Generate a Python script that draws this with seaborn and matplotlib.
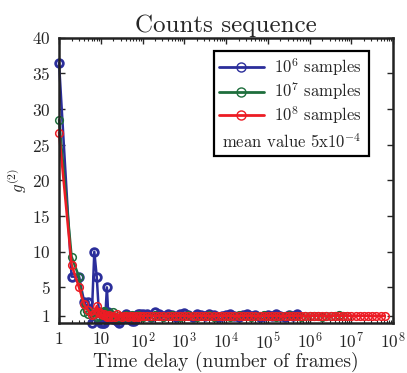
import matplotlib
matplotlib.use("Agg")
import matplotlib.pyplot as plt
import numpy as np
import pandas as pd
import seaborn as sns
from matplotlib.lines import Line2D
from matplotlib.patches import Rectangle
from matplotlib.ticker import FixedLocator, FixedFormatter, LogLocator, NullFormatter

# time delays (frames): individual lags first, then a log-spaced tail
lags_early = [1, 2, 3, 4, 5, 6, 7, 8, 9, 10, 11, 12, 13, 14, 15, 16,
              18, 20, 22, 25, 28, 32, 36, 40, 45, 50, 56, 63, 71, 79, 89, 100]
lags_tail = [126, 158, 200, 251, 316, 398, 501, 631, 794,
             1.0e3, 1.259e3, 1.585e3, 1.995e3, 2.512e3, 3.162e3, 3.981e3, 5.012e3, 6.31e3, 7.943e3,
             1.0e4, 1.259e4, 1.585e4, 1.995e4, 2.512e4, 3.162e4, 3.981e4, 5.012e4, 6.31e4, 7.943e4,
             1.0e5, 1.259e5, 1.585e5, 1.995e5, 2.512e5, 3.162e5, 3.981e5, 5.012e5, 6.31e5, 7.943e5,
             1.0e6, 1.259e6, 1.585e6, 1.995e6, 2.512e6, 3.162e6, 3.981e6, 5.012e6, 6.31e6, 7.943e6,
             1.0e7, 1.259e7, 1.585e7, 1.995e7, 2.512e7, 3.162e7, 3.981e7, 5.012e7, 6.31e7]

g2_1e6_early = [36.5, 6.5, 6.5, 3.0, 3.0, 0.0, 10.0, 6.5, 1.5, 0.0, 0.0, 0.0, 1.5, 5.0, 1.5, 1.0,
                0.8, 0.5, 0.6, 0.3, 0.0, 0.5, 0.8, 1.3, 0.8, 0.6, 0.3, 0.3, 0.8, 1.3, 1.3, 1.3]
g2_1e6_tail = [1.3, 0.9, 1.5, 1.2, 1.0, 1.3, 1.1, 0.8, 1.2,
               1.4, 1.1, 0.9, 1.2, 1.1, 1.0, 1.2, 1.1, 0.9, 1.0,
               1.1, 1.2, 1.0, 0.9, 1.1, 1.2, 1.0, 1.1, 0.9, 1.0,
               1.1, 1.0, 1.2, 1.0, 0.9, 1.1, 1.0, 1.3]

g2_1e7_early = [28.5, 9.3, 6.5, 1.5, 1.2, 1.6, 1.2, 0.8, 1.0, 1.2, 1.5, 1.7, 1.2, 1.0, 0.9, 1.0,
                1.2, 1.5, 0.8, 0.5, 0.7, 1.0, 0.9, 1.1, 0.8, 0.9, 1.1, 1.0, 0.9, 1.1, 1.0, 0.9]
g2_1e7_tail = [1.0, 0.9, 1.1, 1.0, 0.9, 1.0, 1.1, 1.0, 0.9,
               1.0, 1.1, 1.0, 0.9, 1.0, 1.0, 1.1, 0.9, 1.0, 1.0,
               1.0, 0.9, 1.0, 1.1, 1.0, 1.0, 0.9, 1.0, 1.0, 1.1,
               1.0, 1.0, 0.9, 1.0, 1.0, 1.1, 1.0, 1.0, 0.9, 1.0,
               1.0, 1.0, 1.0, 0.9, 1.0, 1.0, 1.0, 1.1, 1.0, 1.0]

g2_1e8_early = [26.7, 8.2, 5.0, 2.6, 1.8, 1.1, 1.3, 2.4, 1.6, 1.3, 1.1, 1.2, 1.0, 0.9, 1.0, 1.1,
                0.9, 1.0, 0.9, 1.2, 1.0, 0.9, 1.0, 1.0, 0.9, 1.0, 1.0, 0.9, 1.0, 0.9, 1.0, 1.0]
g2_1e8_tail = [1.0, 1.0, 0.95, 1.0, 1.0, 1.0, 0.95, 1.0, 1.0,
               1.0, 0.95, 1.0, 1.0, 1.0, 1.0, 0.95, 1.0, 1.0, 1.0,
               1.0, 1.0, 0.95, 1.0, 1.0, 1.0, 1.0, 0.95, 1.0, 1.0,
               1.0, 1.0, 1.0, 0.95, 1.0, 1.0, 1.0, 1.0, 0.95, 1.0,
               1.0, 1.0, 1.0, 1.0, 0.95, 1.0, 1.0, 1.0, 1.0, 1.0,
               1.0, 1.0, 1.0, 1.0, 1.0, 0.95, 1.0, 1.0, 1.0]

series_labels = [r"$10^6$ samples", r"$10^7$ samples", r"$10^8$ samples"]
series_colors = ["#2b2e9b", "#1e6e3c", "#ec1c24"]
x_tick_values = [1, 10, 1e2, 1e3, 1e4, 1e5, 1e6, 1e7, 1e8]
x_tick_labels = ["1", "10", "$10^2$", "$10^3$", "$10^4$", "$10^5$", "$10^6$", "$10^7$", "$10^8$"]
y_tick_values = [1, 5, 10, 15, 20, 25, 30, 35, 40]

sns.set_style("ticks")
plt.rcParams["font.family"] = ["cmr10", "DejaVu Serif"]
plt.rcParams["mathtext.fontset"] = "cm"
plt.rcParams["axes.formatter.use_mathtext"] = True
plt.rcParams["axes.unicode_minus"] = False

frames = []
for lbl, early, tail in [(series_labels[0], g2_1e6_early, g2_1e6_tail),
                         (series_labels[1], g2_1e7_early, g2_1e7_tail),
                         (series_labels[2], g2_1e8_early, g2_1e8_tail)]:
    lags = lags_early + lags_tail[:len(tail)]
    frames.append(pd.DataFrame({"lag": lags, "g2": early + tail, "series": lbl}))
df = pd.concat(frames, ignore_index=True)

fig = plt.figure(figsize=(4.07, 3.73), dpi=100)
ax = fig.add_axes([0.145, 0.134, 0.821, 0.765])

for lbl, col in zip(series_labels, series_colors):
    sub = df[df["series"] == lbl]
    sns.lineplot(data=sub, x="lag", y="g2", ax=ax, color=col, marker="o",
                 markersize=5.5, markerfacecolor="none", markeredgecolor=col,
                 markeredgewidth=2.0 if lbl == series_labels[0] else 1.1,
                 linewidth=1.8, sort=False, estimator=None, legend=False,
                 clip_on=False)

ax.set_xscale("log")
ax.set_xlim(1, 1e8)
ax.set_ylim(0, 40)
ax.xaxis.set_major_locator(FixedLocator(x_tick_values))
ax.xaxis.set_major_formatter(FixedFormatter(x_tick_labels))
ax.xaxis.set_minor_locator(LogLocator(base=10, subs=np.arange(2, 10), numticks=20))
ax.xaxis.set_minor_formatter(NullFormatter())
ax.yaxis.set_major_locator(FixedLocator(y_tick_values))
ax.tick_params(which="both", direction="in", top=True, right=True, labelsize=12.5, pad=6)
ax.tick_params(which="major", length=4, width=1)
ax.tick_params(which="minor", length=2, width=0.8)
for sp in ax.spines.values():
    sp.set_linewidth(1.8)
    sp.set_color("#222222")

ax.set_title("Counts sequence", fontsize=18, pad=4)
ax.set_xlabel("Time delay (number of frames)", fontsize=14, labelpad=0)
ax.set_ylabel(r"$g^{(2)}$", fontsize=12, labelpad=2)

# legend box drawn by hand so the extra "mean value" line fits inside it
box = Rectangle((0.464, 0.584), 0.464, 0.371, transform=ax.transAxes,
                facecolor="white", edgecolor="black", linewidth=1.6, zorder=4)
ax.add_patch(box)
handles = [Line2D([], [], color=c, marker="o", markersize=6.5, markerfacecolor="none",
                  markeredgecolor=c, linewidth=2) for c in series_colors]
leg = ax.legend(handles, series_labels, loc="upper left",
                bbox_to_anchor=(0.478, 0.935), borderaxespad=0, fontsize=12,
                frameon=False, handlelength=2.7, handletextpad=0.6, borderpad=0,
                labelspacing=0.12)
leg.set_zorder(5)
ax.text(0.695, 0.636, r"mean value 5x10$^{-4}$", transform=ax.transAxes,
        ha="center", va="center", fontsize=12, zorder=6)

fig.savefig("out.png", dpi=100)
